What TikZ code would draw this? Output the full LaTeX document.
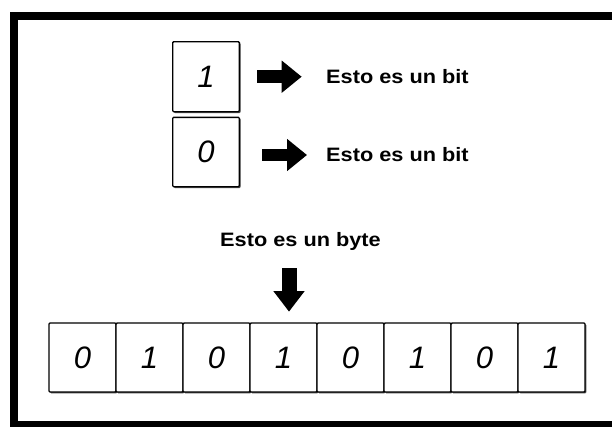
\documentclass[tikz,border=0pt]{standalone}
\usepackage{fontspec}
\setmainfont{Liberation Sans}
\usetikzlibrary{positioning,arrows.meta,shadows}

\newcommand{\wide}[1]{\scalebox{1.12}[1]{#1}}

\tikzset{
  bitbox/.style={
    draw, fill=white, line width=1.4pt, rounded corners=1pt,
    inner sep=0pt, outer sep=0pt,
    minimum width=67pt, minimum height=69pt,
    drop shadow={shadow xshift=1.3pt, shadow yshift=-1.3pt, opacity=1, fill=black!70},
    font=\itshape\fontsize{31}{31}\selectfont
  },
  bitlabel/.style={inner sep=0pt, anchor=west, font=\bfseries\fontsize{19.4}{21}\selectfont},
  fatarrow/.style={line width=12.7pt, -{Triangle[width=31pt,length=20pt]}},
  downarrow/.style={line width=15pt, -{Triangle[width=30pt,length=20.7pt]}}
}

\begin{document}
\begin{tikzpicture}[x=1pt, y=-1pt]
\useasboundingbox (0,0) rectangle (612,426);
\clip (0,0) rectangle (612,426);
\fill[white] (0,0) rectangle (612,426);
% frame
\draw[line width=8pt] (14,15.5) rectangle (620,424.5);

% single bits
\node[bitbox, minimum width=66.6pt, minimum height=70pt] (bitA) at (206,76.7) {1};
\node[bitbox, minimum width=66.6pt, minimum height=69.4pt] (bitB) at (206,152) {0};
\node[bitlabel] (txtA) at (326,76.7) {\wide{Esto es un bit}};
\node[bitlabel] (txtB) at (326,155) {\wide{Esto es un bit}};
\draw[fatarrow, shorten <=18pt, shorten >=24.3pt] (bitA.east) -- (txtA.west);
\draw[fatarrow, shorten <=22.7pt, shorten >=19pt] (bitB.east |- txtB.west) -- (txtB.west);

% byte
\node[bitbox] (cell1) at (82.5,357.5) {0};
\foreach \v [count=\i from 2] in {1,0,1,0,1,0,1} {
  \pgfmathtruncatemacro\prev{\i-1}
  \node[bitbox, right=0pt of cell\prev] (cell\i) {\v};
}
\node[bitlabel, anchor=center] (byteLbl) at (300.5,241) {\wide{Esto es un byte}};
\draw[downarrow, shorten <=18pt, shorten >=11.3pt]
  ([xshift=-11.5pt]byteLbl.south) -- ([xshift=-11.5pt]byteLbl.south |- cell4.north);
\end{tikzpicture}
\end{document}
